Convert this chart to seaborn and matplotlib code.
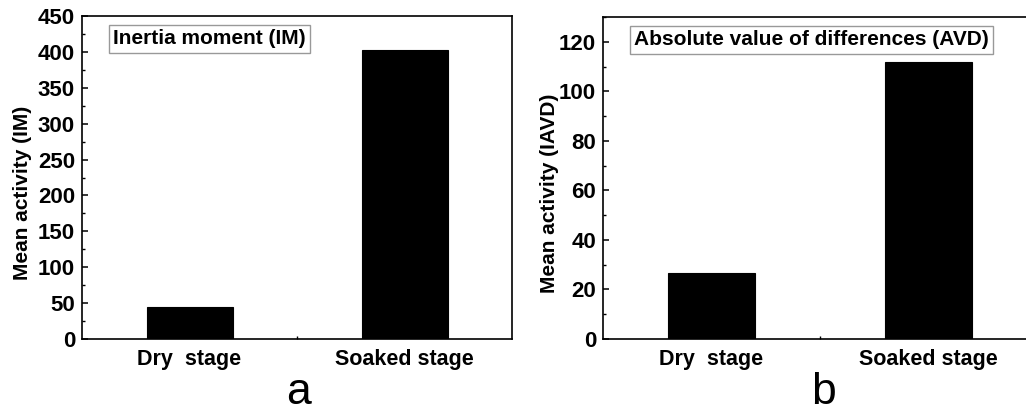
import matplotlib
matplotlib.use("Agg")
import matplotlib.pyplot as plt
import seaborn as sns
import pandas as pd
from matplotlib.ticker import MultipleLocator, FixedLocator

sns.set_theme(style="white")
plt.rcParams['font.family'] = ['Liberation Sans', 'DejaVu Sans']
plt.rcParams['text.color'] = 'black'
plt.rcParams['axes.labelcolor'] = 'black'
plt.rcParams['xtick.color'] = 'black'
plt.rcParams['ytick.color'] = 'black'

categories = ["Dry  stage", "Soaked stage"]
im_values = [44, 402]
avd_values = [26.7, 112]
panel_titles = ["Inertia moment (IM)", "Absolute value of differences (AVD)"]
y_labels = ["Mean activity (IM)", "Mean activity (IAVD)"]
panel_letters = ["a", "b"]

W, H = 1026, 412
fig = plt.figure(figsize=(W / 100, H / 100), dpi=100)
fig.patch.set_facecolor("white")

ax1 = fig.add_axes([82 / W, 1 - 339 / H, 430 / W, 323 / H])
ax2 = fig.add_axes([603 / W, 1 - 339 / H, 434 / W, 322 / H])

configs = [
    (ax1, im_values, (0, 450), 50, 25, panel_titles[0], y_labels[0], -0.117),
    (ax2, avd_values, (0, 130), 20, 10, panel_titles[1], y_labels[1], -0.101),
]

for ax, vals, ylim, major, minor, title, ylab, labx in configs:
    df = pd.DataFrame({"stage": categories, "value": vals})
    sns.barplot(data=df, x="stage", y="value", ax=ax, color="black",
                width=0.4, edgecolor="black", linewidth=0.8, saturation=1)
    ax.set_xlim(-0.5, 1.5)
    ax.set_ylim(*ylim)
    ax.yaxis.set_major_locator(MultipleLocator(major))
    ax.yaxis.set_minor_locator(MultipleLocator(minor))
    ax.xaxis.set_minor_locator(FixedLocator([0.5]))
    ax.tick_params(axis="y", which="major", direction="in", length=4, width=1.1,
                   labelsize=16, pad=5, color="black", labelcolor="black", left=True)
    ax.tick_params(axis="y", which="minor", direction="in", length=2.5, width=1.0,
                   color="black", left=True)
    ax.tick_params(axis="x", which="major", length=0, labelsize=15.5, pad=7,
                   labelcolor="black")
    ax.tick_params(axis="x", which="minor", direction="in", length=2.5, width=1.0,
                   color="black", bottom=True)
    for lbl in ax.get_xticklabels() + ax.get_yticklabels():
        lbl.set_fontweight("bold")
    ax.set_xlabel("")
    ax.set_ylabel(ylab, fontsize=15, fontweight="bold", color="black")
    ax.yaxis.set_label_coords(labx, 0.453)
    for s in ax.spines.values():
        s.set_color("black")
        s.set_linewidth(1.2)
    ax.text(0.072, 0.929, title, transform=ax.transAxes, fontsize=15,
            fontweight="bold", ha="left", va="center", color="black",
            bbox=dict(boxstyle="square,pad=0.2", facecolor="white",
                      edgecolor="#999999", linewidth=1.0))

fig.text(299 / W, 1 - 404 / H, panel_letters[0], fontsize=32, ha="center",
         va="baseline", color="black")
fig.text(823 / W, 1 - 404 / H, panel_letters[1], fontsize=32, ha="center",
         va="baseline", color="black")

fig.savefig("out.png", dpi=100, facecolor="white")
